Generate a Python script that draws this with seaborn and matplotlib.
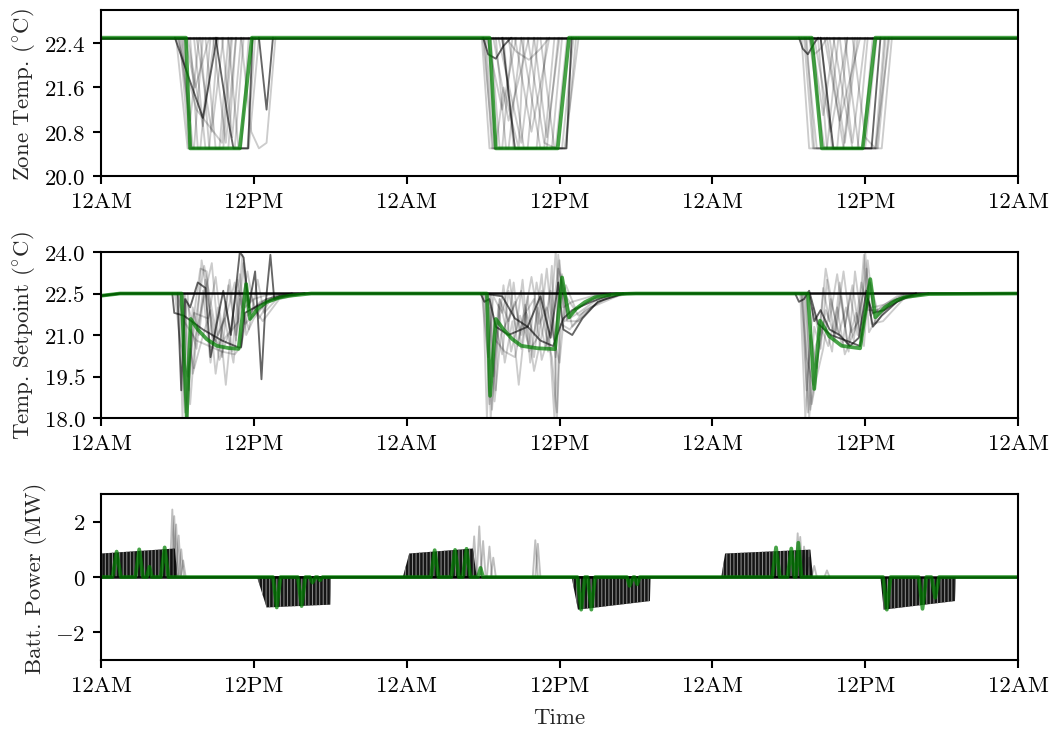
import matplotlib
matplotlib.use("Agg")
import matplotlib.pyplot as plt
import pandas as pd
import seaborn as sns

# ---------------- data (hours since midnight of day 1) ----------------
HOUR_TICKS = [0, 12, 24, 36, 48, 60, 72]
HOUR_LABELS = ["12AM", "12PM", "12AM", "12PM", "12AM", "12PM", "12AM"]

# Zone temperature (deg C)
ZONE_GREEN = [(0, 22.5), (6.67, 22.5), (7.0, 20.5), (10.9, 20.5), (11.85, 22.5),
              (30.5, 22.5), (31.0, 20.5), (35.86, 20.5), (36.75, 22.5),
              (55.8, 22.5), (56.6, 20.5), (59.8, 20.5), (60.8, 22.5), (72, 22.5)]
ZONE_BLACK = [(0, 22.5), (72, 22.5)]
ZONE_GRAY_DARK = [
    [(5.8, 22.5), (8.0, 21.05), (9.1, 22.5)],
    [(9.0, 22.5), (10.0, 21.0), (10.4, 20.5), (11.55, 20.5), (11.9, 22.5)],
    [(12.4, 22.5), (13.0, 21.2), (13.5, 22.5)],
    [(30.0, 22.5), (30.4, 22.2), (31.0, 22.12), (31.6, 22.35), (32.2, 22.5)],
    [(31.5, 22.5), (32.5, 20.5), (36.55, 20.5), (36.95, 22.5)],
    [(54.8, 22.5), (55.1, 22.3), (55.5, 22.2), (56.0, 22.4), (56.3, 22.5)],
    [(56.5, 22.5), (57.5, 20.5), (60.5, 20.5), (61.2, 22.5)],
]
ZONE_GRAY_LIGHT = [
    [(6.2, 22.5), (6.9, 20.5), (8.5, 20.5), (9.2, 22.5)],
    [(6.5, 22.5), (7.2, 20.5), (7.8, 20.5), (8.6, 22.5)],
    [(7.0, 22.5), (7.6, 20.5), (9.6, 20.5), (10.3, 22.5)],
    [(6.0, 22.5), (7.5, 21.2), (9.5, 20.6), (10.2, 22.5)],
    [(7.3, 22.5), (8.2, 20.5), (10.5, 20.5), (11.2, 22.5)],
    [(8.2, 22.5), (9.0, 20.5), (11.0, 20.5), (11.6, 22.5)],
    [(6.6, 22.5), (7.4, 21.6), (8.5, 22.5)],
    [(9.5, 22.5), (10.3, 20.7), (11.0, 22.5)],
    [(11.0, 22.5), (11.8, 20.8), (12.4, 20.5), (13.0, 20.6), (13.7, 22.5)],
    [(6.4, 22.5), (7.0, 20.5), (11.5, 20.5), (12.1, 22.5)],
    [(7.5, 22.5), (8.7, 20.8), (9.6, 22.5)],
    [(5.9, 22.5), (6.8, 20.5), (7.3, 20.5), (8.0, 22.5)],
    [(6.3, 22.5), (7.1, 20.5), (10.0, 20.5), (10.6, 22.5)],
    [(7.8, 22.5), (8.5, 20.5), (9.3, 20.5), (10.0, 22.5)],
    [(8.8, 22.5), (9.8, 20.6), (10.6, 22.5)],
    [(6.8, 22.5), (8.0, 20.9), (8.9, 22.5)],
    [(10.0, 22.5), (10.8, 20.5), (11.6, 20.5), (12.4, 22.5)],
    [(6.1, 22.5), (7.0, 21.0), (7.7, 22.5)],
    [(29.9, 22.5), (30.5, 20.5), (32.0, 20.5), (33.0, 22.5)],
    [(30.2, 22.5), (30.9, 20.5), (33.5, 20.5), (34.3, 22.5)],
    [(30.6, 22.5), (31.3, 20.5), (34.8, 20.5), (35.6, 22.5)],
    [(30.8, 22.5), (32.0, 21.0), (33.6, 22.5)],
    [(31.0, 22.5), (31.8, 20.5), (36.2, 20.5), (37.1, 22.5)],
    [(31.2, 22.5), (33.0, 20.6), (34.0, 22.5)],
    [(32.5, 22.5), (33.8, 20.8), (35.2, 22.5)],
    [(33.0, 22.5), (34.5, 20.5), (36.4, 20.5), (37.5, 22.5)],
    [(30.4, 22.5), (31.0, 20.5), (31.6, 21.6), (32.8, 20.5), (33.2, 22.5)],
    [(31.8, 22.5), (32.6, 22.25), (33.6, 22.1), (34.5, 22.3), (35.2, 22.5)],
    [(34.0, 22.5), (35.0, 20.7), (36.0, 22.5)],
    [(30.1, 22.5), (30.7, 20.5), (35.4, 20.5), (36.2, 22.5)],
    [(30.0, 22.5), (30.8, 20.5), (31.5, 20.5), (32.3, 22.5)],
    [(31.6, 22.5), (32.4, 20.5), (35.0, 20.5), (35.9, 22.5)],
    [(32.0, 22.5), (33.2, 20.5), (34.2, 20.5), (35.0, 22.5)],
    [(33.5, 22.5), (34.8, 20.6), (35.7, 20.5), (36.6, 22.5)],
    [(30.3, 22.5), (31.5, 21.2), (32.6, 22.5)],
    [(34.5, 22.5), (35.6, 20.5), (36.5, 20.5), (37.3, 22.5)],
    [(55.0, 22.5), (55.6, 20.5), (57.0, 20.5), (57.9, 22.5)],
    [(55.3, 22.5), (56.2, 20.5), (58.3, 20.5), (59.2, 22.5)],
    [(55.6, 22.5), (56.8, 20.5), (59.4, 20.5), (60.2, 22.5)],
    [(56.0, 22.5), (57.3, 20.8), (58.6, 22.5)],
    [(56.3, 22.5), (57.0, 20.5), (60.9, 20.5), (61.6, 22.5)],
    [(57.0, 22.5), (58.3, 20.5), (61.3, 20.5), (62.1, 22.5)],
    [(56.8, 22.5), (58.0, 21.0), (59.6, 22.5)],
    [(58.0, 22.5), (59.0, 20.6), (60.0, 22.5)],
    [(55.2, 22.5), (55.9, 20.5), (60.0, 20.5), (60.9, 22.5)],
    [(57.5, 22.5), (59.0, 20.5), (61.0, 20.5), (61.8, 22.5)],
    [(55.6, 22.5), (56.0, 22.2), (56.5, 22.3), (57.0, 22.5)],
    [(55.4, 22.5), (56.0, 20.5), (57.8, 20.5), (58.6, 22.5)],
    [(56.5, 22.5), (57.4, 20.5), (59.8, 20.5), (60.6, 22.5)],
    [(57.2, 22.5), (58.4, 20.6), (59.4, 22.5)],
    [(58.4, 22.5), (59.5, 20.5), (60.8, 20.5), (61.5, 22.5)],
    [(55.8, 22.5), (56.7, 21.1), (57.6, 22.5)],
    [(59.0, 22.5), (60.0, 20.7), (60.8, 20.5), (61.9, 22.5)],
]

# Temperature setpoint (deg C)
SP_GREEN = [(0, 22.42), (1.5, 22.5), (6.33, 22.5), (6.73, 18.0), (7.04, 21.58), (7.6, 21.2),
            (8.3, 20.85), (9.08, 20.61), (10.0, 20.53), (10.8, 20.5), (11.4, 22.84), (11.7, 21.58),
            (12.3, 21.95), (13.0, 22.19), (14.0, 22.35), (14.8, 22.42), (16.5, 22.5),
            (30.3, 22.5), (30.55, 18.8), (31.0, 21.58), (31.6, 21.2), (32.3, 20.85), (33.0, 20.61),
            (34.3, 20.52), (35.65, 20.49), (36.2, 23.08), (36.75, 21.64), (37.3, 21.95), (38.0, 22.19),
            (38.8, 22.37), (40.5, 22.48), (42, 22.5),
            (55.5, 22.5), (56.0, 19.05), (56.45, 21.52), (57.2, 20.95), (58.15, 20.61), (59.6, 20.52),
            (60.4, 23.02), (60.8, 21.64), (61.55, 22.0), (62.3, 22.22), (63.1, 22.37), (65, 22.48), (72, 22.5)]
SP_BLACK = [(0, 22.42), (1.5, 22.5), (72, 22.5)]
SP_GRAY_DARK = [
    [(5.6, 22.5), (5.75, 21.8), (6.5, 21.7), (8.0, 21.2), (9.5, 20.8), (10.8, 20.55), (11.0, 20.55),
     (11.3, 21.8), (12.5, 22.1), (14, 22.4), (16, 22.5)],
    [(6.0, 22.5), (6.3, 19.0), (6.6, 22.3), (7.0, 22.0), (7.6, 22.9), (8.2, 22.7), (8.6, 20.2), (9.0, 21.2),
     (9.6, 22.6), (10.2, 21.0), (10.9, 24.0), (11.2, 23.8), (11.6, 22.0), (12.1, 23.3), (12.6, 19.4),
     (12.9, 22.0), (13.3, 23.9), (13.6, 22.3), (14.5, 22.4), (16, 22.5)],
    [(29.8, 22.5), (30.1, 22.2), (30.5, 22.3), (31.0, 21.3), (32.0, 21.0), (33.5, 21.3), (34.5, 20.8),
     (35.5, 20.6), (36.3, 21.6), (37.0, 21.9), (38.5, 22.2), (40, 22.45)],
    [(30.0, 22.5), (31.5, 22.4), (32.5, 21.6), (33.5, 21.3), (34.5, 22.4), (35.3, 20.9), (35.9, 22.9),
     (36.3, 21.2), (37.0, 21.0), (37.8, 21.6), (39, 22.2), (41, 22.5)],
    [(54.5, 22.5), (54.8, 22.2), (55.2, 22.3), (55.6, 22.6), (56.3, 21.4), (57.3, 21.0), (58.5, 20.8),
     (59.6, 20.6), (60.2, 22.3), (60.6, 21.8), (61.5, 21.9), (63, 22.35), (65, 22.5)],
    [(55.6, 22.5), (56.0, 21.5), (56.5, 21.9), (57.2, 21.2), (58.0, 21.0), (58.8, 20.6), (59.5, 20.9),
     (60.1, 22.6), (60.6, 21.3), (61.3, 21.7), (62.5, 22.2), (64, 22.5)],
]
SP_GRAY_LIGHT = [
    [(6.1, 22.5), (6.4, 18.0), (6.7, 22.3), (7.2, 21.4), (7.8, 23.4), (8.3, 23.3), (8.7, 21.0), (9.3, 20.6),
     (9.8, 22.2), (10.3, 20.4), (10.8, 22.6), (11.3, 22.0), (12.0, 22.3), (13, 22.45), (15, 22.5)],
    [(6.2, 22.5), (6.6, 18.2), (7.0, 20.5), (7.3, 19.8), (7.9, 23.7), (8.5, 22.0), (9.0, 19.6), (9.6, 21.5),
     (10.1, 23.0), (10.6, 20.8), (11.2, 23.6), (11.7, 21.8), (12.5, 22.2), (14, 22.45)],
    [(6.3, 22.5), (6.7, 18.0), (7.1, 21.2), (7.5, 20.5), (8.0, 22.6), (8.6, 20.0), (9.2, 22.0), (9.8, 19.2),
     (10.3, 21.6), (10.9, 23.2), (11.4, 21.0), (12.0, 21.6), (13.0, 22.2), (15.0, 22.5)],
    [(5.8, 22.5), (6.2, 20.8), (6.8, 19.5), (7.4, 21.5), (8.1, 23.5), (8.8, 21.7), (9.5, 20.2), (10.0, 22.8),
     (10.6, 21.0), (11.1, 23.9), (11.5, 21.7), (12.0, 21.9), (13, 22.3), (15, 22.5)],
    [(6.5, 22.5), (6.9, 19.0), (7.3, 21.8), (8.4, 21.6), (9.0, 23.1), (9.6, 20.8), (10.2, 21.2), (10.7, 23.0),
     (11.3, 21.4), (12.2, 21.8), (13.5, 22.4), (15, 22.5)],
    [(6.0, 22.5), (6.5, 21.5), (7.5, 20.8), (8.5, 20.6), (9.5, 20.4), (10.5, 20.3), (11.0, 20.6), (11.4, 22.8),
     (11.7, 21.9), (13, 22.3), (15, 22.5)],
    [(6.4, 22.5), (6.8, 18.0), (7.2, 22.0), (7.7, 21.0), (8.2, 23.0), (8.9, 20.7), (9.7, 21.6), (10.4, 20.0),
     (10.9, 22.3), (11.6, 21.2), (12.3, 23.0), (12.8, 21.8), (14, 22.4), (15.5, 22.5)],
    [(6.6, 22.5), (7.0, 18.5), (7.4, 20.9), (8.0, 22.2), (8.7, 23.6), (9.2, 21.0), (9.9, 21.8), (10.5, 22.9),
     (11.0, 20.6), (11.8, 22.4), (12.4, 21.6), (13.2, 22.2), (15, 22.5)],
    [(6.8, 22.5), (7.2, 19.6), (7.9, 20.8), (8.6, 21.9), (9.3, 20.1), (10.0, 21.0), (10.8, 21.5), (11.5, 23.3),
     (12.0, 22.0), (12.7, 21.5), (14, 22.3), (16, 22.5)],
    [(30.0, 22.5), (30.3, 18.0), (30.6, 22.0), (31.0, 19.0), (31.3, 22.3), (31.9, 21.0), (32.4, 22.9),
     (33.0, 20.5), (33.5, 22.4), (34.0, 20.2), (34.6, 22.6), (35.2, 21.0), (35.6, 18.0), (35.9, 23.9),
     (36.3, 22.0), (37.0, 22.2), (38.5, 22.4), (40.0, 22.5)],
    [(30.1, 22.5), (30.5, 18.5), (30.9, 21.5), (31.5, 20.3), (32.0, 22.6), (32.6, 21.2), (33.1, 23.0),
     (33.7, 20.0), (34.3, 22.0), (34.9, 20.5), (35.4, 23.5), (35.8, 18.2), (36.1, 23.0), (36.6, 21.6),
     (37.5, 22.0), (39, 22.4), (40.5, 22.5)],
    [(30.2, 22.5), (30.6, 18.0), (31.2, 22.1), (31.7, 20.0), (32.3, 21.5), (32.8, 19.2), (33.4, 21.8),
     (34.0, 21.0), (34.6, 23.2), (35.1, 20.4), (35.7, 24.0), (36.0, 22.0), (36.5, 22.8), (37.3, 21.9),
     (38.5, 22.3), (40, 22.5)],
    [(29.9, 22.5), (30.4, 20.2), (30.8, 22.4), (31.5, 21.8), (32.1, 23.0), (32.7, 20.6), (33.3, 22.1),
     (34.0, 19.7), (34.7, 21.2), (35.3, 22.6), (35.7, 20.2), (36.0, 23.7), (36.4, 21.5), (37.5, 21.8),
     (39, 22.3), (41, 22.5)],
    [(30.3, 22.5), (30.7, 18.3), (31.1, 20.8), (31.6, 22.8), (32.2, 20.4), (32.9, 21.7), (33.6, 20.6),
     (34.2, 22.9), (34.8, 21.3), (35.4, 20.2), (35.8, 18.0), (36.1, 21.4), (36.8, 21.2), (38.0, 21.9),
     (40, 22.4), (41.5, 22.5)],
    [(30.4, 22.5), (30.8, 19.5), (31.3, 22.3), (32.0, 21.5), (32.5, 22.2), (33.0, 21.0), (33.8, 23.1),
     (34.4, 21.4), (35.0, 22.0), (35.6, 20.8), (36.2, 23.2), (36.6, 21.5), (37.5, 21.5), (39, 22.2), (41, 22.5)],
    [(30.5, 22.5), (30.9, 18.6), (31.4, 21.0), (32.2, 21.8), (33.0, 22.6), (33.6, 20.4), (34.4, 21.0),
     (35.0, 23.4), (35.5, 21.0), (36.0, 20.0), (36.5, 22.4), (37.5, 21.7), (39.5, 22.3), (41.5, 22.5)],
    [(30.6, 22.5), (31.0, 20.8), (31.7, 20.4), (32.5, 20.2), (33.2, 21.7), (34.0, 22.3), (34.6, 20.1),
     (35.3, 21.2), (35.9, 23.4), (36.4, 22.6), (37.0, 21.3), (38.5, 22.0), (41, 22.5)],
    [(54.9, 22.5), (55.3, 18.0), (55.7, 21.0), (56.2, 19.8), (56.7, 22.7), (57.2, 21.5), (57.8, 23.2),
     (58.4, 21.3), (59.0, 22.8), (59.6, 20.9), (60.0, 24.0), (60.4, 21.7), (61.2, 22.0), (62.5, 22.4), (64, 22.5)],
    [(55.0, 22.5), (55.5, 18.2), (56.0, 21.3), (56.5, 20.5), (57.0, 23.0), (57.6, 20.8), (58.1, 22.4),
     (58.7, 20.4), (59.2, 23.3), (59.8, 21.2), (60.2, 23.7), (60.6, 22.0), (61.5, 22.1), (63, 22.45)],
    [(55.2, 22.5), (55.6, 18.0), (56.1, 20.6), (56.8, 21.5), (57.4, 20.4), (58.0, 22.9), (58.6, 20.7),
     (59.3, 21.8), (59.9, 20.6), (60.3, 23.0), (60.8, 21.4), (62, 22.2), (64, 22.5)],
    [(55.1, 22.5), (55.4, 19.0), (55.9, 22.0), (56.4, 21.0), (56.9, 23.4), (57.5, 21.9), (58.2, 20.6),
     (58.8, 22.5), (59.4, 21.0), (59.9, 23.9), (60.3, 21.1), (61.0, 21.7), (62.5, 22.3), (64, 22.5)],
    [(55.3, 22.5), (55.8, 18.5), (56.2, 19.5), (56.7, 20.5), (57.3, 22.3), (57.9, 21.0), (58.5, 22.0),
     (59.1, 20.8), (59.7, 22.9), (60.2, 21.9), (61, 21.9), (62.5, 22.3), (64, 22.5)],
    [(55.4, 22.5), (55.7, 18.3), (56.3, 20.2), (56.9, 21.9), (57.6, 21.0), (58.3, 23.3), (58.9, 21.1),
     (59.5, 21.5), (60.1, 23.4), (60.5, 21.4), (61.4, 21.5), (63, 22.3), (65, 22.5)],
    [(55.0, 22.5), (55.4, 20.2), (55.9, 19.2), (56.6, 21.2), (57.1, 20.6), (57.8, 22.0), (58.4, 20.3),
     (59.2, 21.2), (59.8, 22.4), (60.4, 22.9), (61, 21.8), (62.5, 22.3), (64, 22.5)],
]

# Battery power (MW)
BATT_GREEN = [(0, 0), (0.9, 0), (1.23, 0.92), (1.55, 0), (2.7, 0), (3.0, 1.0), (3.3, 0), (3.6, 0),
              (3.8, 0.37), (4.0, 0), (4.7, 0), (5.0, 1.07), (5.3, 0),
              (13.5, 0), (13.8, -1.1), (14.1, 0), (15.45, 0), (15.75, -1.05), (16.05, 0), (16.4, 0),
              (16.6, -0.2), (16.85, 0), (17.0, 0), (17.2, -0.12), (17.4, 0),
              (25.9, 0), (26.2, 0.97), (26.5, 0), (27.5, 0), (27.8, 0.98), (28.1, 0), (28.4, 0),
              (28.7, 1.02), (29.0, 0), (29.6, 0), (29.8, 0.33), (30.0, 0),
              (37.4, 0), (37.7, -1.18), (38.0, 0), (38.2, 0), (38.5, -1.18), (38.8, 0), (41.3, 0),
              (41.5, -0.32), (41.8, 0), (41.9, 0), (42.1, -0.26), (42.3, 0),
              (52.7, 0), (53.0, 1.07), (53.3, 0), (53.9, 0), (54.2, 1.03), (54.45, 0), (54.55, 0),
              (54.75, 1.24), (55.0, 0),
              (61.4, 0), (61.7, -1.18), (62.0, 0), (64.2, 0), (64.5, -1.15), (64.8, 0), (65.2, 0),
              (65.5, -0.75), (65.8, 0), (72, 0)]
BATT_BLACK = [(0, 0), (72, 0)]
# envelopes of the fast charge / discharge cycling of the scenario traces
BATT_BANDS = [
    [(0.0, 0.0), (0.02, 0.85), (5.8, 1.03), (6.0, 0.0)],
    [(12.25, 0.0), (13.0, -1.1), (18.0, -1.0), (18.05, 0.0)],
    [(23.7, 0.0), (24.2, 0.85), (29.2, 1.03), (29.5, 0.0)],
    [(36.95, 0.0), (37.45, -1.18), (43.1, -0.87), (43.15, 0.0)],
    [(48.7, 0.0), (49.0, 0.85), (55.7, 0.99), (55.9, 0.0)],
    [(61.2, 0.0), (61.45, -1.18), (67.05, -0.87), (67.1, 0.0)],
]
BATT_GRAY = [
    [(5.4, 0), (5.6, 2.44), (5.8, 0), (29.5, 0), (29.7, 1.83), (29.9, 0), (54.5, 0), (54.7, 1.58), (54.9, 0)],
    [(5.55, 0), (5.75, 2.2), (5.95, 0), (29.1, 0), (29.3, 1.47), (29.5, 0), (54.7, 0), (54.9, 1.45), (55.1, 0)],
    [(5.7, 0), (5.9, 1.9), (6.1, 0), (29.8, 0), (30.0, 1.3), (30.2, 0), (55.0, 0), (55.2, 1.1), (55.4, 0)],
    [(5.9, 0), (6.1, 1.5), (6.3, 0), (30.3, 0), (30.5, 1.1), (30.7, 0), (55.4, 0), (55.6, 0.7), (55.8, 0)],
    [(6.1, 0), (6.3, 1.0), (6.5, 0), (33.9, 0), (34.1, 1.33), (34.3, 0), (55.8, 0), (56.0, 0.4), (56.2, 0)],
    [(6.25, 0), (6.45, 0.6), (6.65, 0), (34.1, 0), (34.3, 1.2), (34.5, 0), (56.8, 0), (57.0, 0.24), (57.2, 0)],
    [(30.6, 0), (30.8, 0.7), (31.0, 0)],
]


def long_form(traces):
    rows = []
    for i, tr in enumerate(traces):
        for t, v in tr:
            rows.append({"t": t, "v": v, "id": i})
    return pd.DataFrame(rows, columns=["t", "v", "id"])


# ---------------- style ----------------
sns.set_style("ticks")
plt.rcParams["font.family"] = ["cmr10", "DejaVu Serif"]
plt.rcParams["mathtext.fontset"] = "cm"
plt.rcParams["axes.formatter.use_mathtext"] = True
plt.rcParams["font.size"] = 11
plt.rcParams["axes.linewidth"] = 1.0
plt.rcParams["axes.edgecolor"] = "black"
plt.rcParams["xtick.color"] = "black"
plt.rcParams["ytick.color"] = "black"
plt.rcParams["hatch.linewidth"] = 0.5

fig = plt.figure(figsize=(1052 / 150, 730 / 150), dpi=150)
left, width, height = 0.0960, 0.8717, 0.2274
ax1 = fig.add_axes([left, 0.7575, width, height])
ax2 = fig.add_axes([left, 0.4260, width, height])
ax3 = fig.add_axes([left, 0.0945, width, height])

GREEN = "green"
LW_GRAY, LW_BLACK, LW_GREEN = 0.9, 1.2, 1.8


def lines(ax, traces, color, alpha, lw):
    if not traces:
        return
    sns.lineplot(data=long_form(traces), x="t", y="v", units="id", estimator=None, sort=False,
                 color=color, alpha=alpha, lw=lw, ax=ax, legend=False)


def draw(ax, green, black, light, dark, light_alpha=0.2):
    lines(ax, light, "black", light_alpha, LW_GRAY)
    lines(ax, dark, "black", 0.6, LW_GRAY)
    lines(ax, [black], "black", 0.95, LW_BLACK)
    lines(ax, [green], GREEN, 0.72, LW_GREEN)


draw(ax1, ZONE_GREEN, ZONE_BLACK, ZONE_GRAY_LIGHT, ZONE_GRAY_DARK)
draw(ax2, SP_GREEN, SP_BLACK, SP_GRAY_LIGHT, SP_GRAY_DARK)

# battery: cycling bands, scenario spikes, baseline, selected trace
for band in BATT_BANDS:
    bt = [p[0] for p in band]
    bv = [p[1] for p in band]
    ax3.fill_between(bt, 0, bv, facecolor="#151515", edgecolor="#8a8a8a",
                     hatch="|||||||", lw=0)
draw(ax3, BATT_GREEN, BATT_BLACK, BATT_GRAY, [], light_alpha=0.25)

ax1.set_ylim(20.0, 23.0)
ax1.set_yticks([20.0, 20.8, 21.6, 22.4])
ax1.set_yticklabels(["20.0", "20.8", "21.6", "22.4"])
ax1.set_ylabel(r"Zone Temp. $(^{\circ}\mathrm{C})$")

ax2.set_ylim(18.0, 24.0)
ax2.set_yticks([18.0, 19.5, 21.0, 22.5, 24.0])
ax2.set_yticklabels(["18.0", "19.5", "21.0", "22.5", "24.0"])
ax2.set_ylabel(r"Temp. Setpoint $(^{\circ}\mathrm{C})$")

ax3.set_ylim(-3, 3)
ax3.set_yticks([-2, 0, 2])
ax3.set_ylabel("Batt. Power (MW)")

for ax in (ax1, ax2, ax3):
    ax.set_xlim(0, 72)
    ax.set_xticks(HOUR_TICKS)
    ax.set_xticklabels(HOUR_LABELS)
    ax.tick_params(direction="out", length=4, width=1.0)
    ax.set_xlabel("")
    ax.grid(False)
ax3.set_xlabel("Time", labelpad=6)

fig.savefig("out.png", dpi=150)
